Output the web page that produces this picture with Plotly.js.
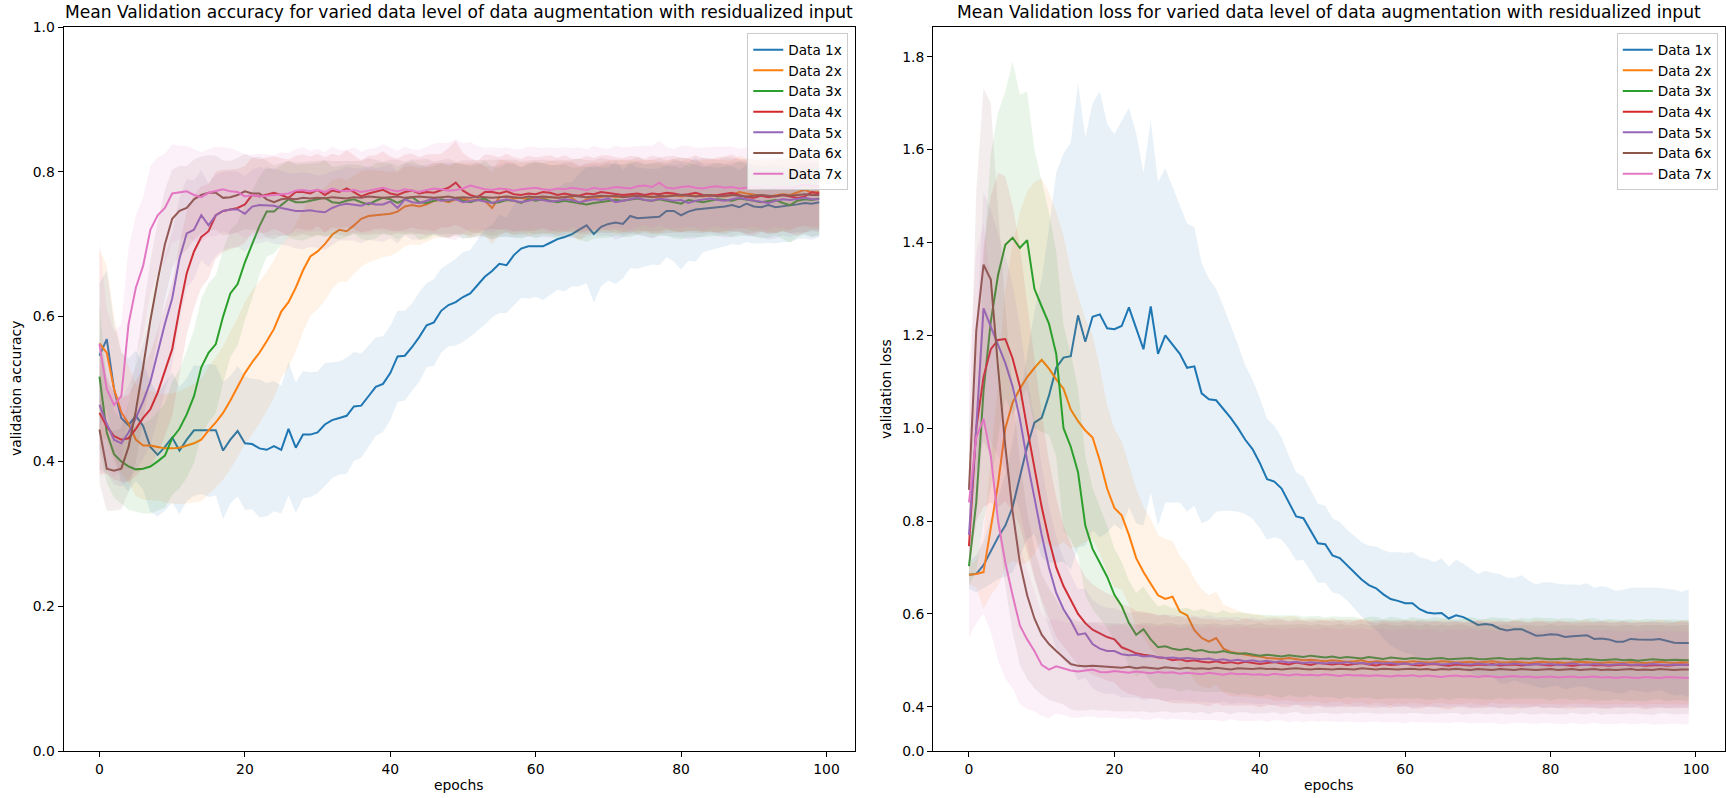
<!DOCTYPE html>
<html>
<head>
<meta charset="utf-8">
<script src="https://cdn.plot.ly/plotly-3.0.1.min.js"></script>
<style>html,body{margin:0;padding:0;background:#fff;}#chart{width:1726px;height:798px;}</style>
</head>
<body>
<div id="chart"></div>
<script>
// ---------------- DATA ----------------
const seriesNames = ["Data 1x","Data 2x","Data 3x","Data 4x","Data 5x","Data 6x","Data 7x"];
const epochs = Array.from({length: 100}, (_, i) => i);
const titleAcc = "Mean Validation accuracy for varied data level of data augmentation with residualized input";
const titleLoss = "Mean Validation loss for varied data level of data augmentation with residualized input";
const xTickVals = [0, 20, 40, 60, 80, 100];
const accTickVals = [0.0, 0.2, 0.4, 0.6, 0.8, 1.0];
const accTickText = ["0.0", "0.2", "0.4", "0.6", "0.8", "1.0"];
const lossTickVals = [0.3046, 0.4, 0.6, 0.8, 1.0, 1.2, 1.4, 1.6, 1.8];
const lossTickText = ["0.0", "0.4", "0.6", "0.8", "1.0", "1.2", "1.4", "1.6", "1.8"];

// mean validation accuracy
const acc1 = [0.546,0.569,0.500,0.460,0.450,0.463,0.449,0.420,0.409,0.420,
0.433,0.415,0.430,0.443,0.443,0.443,0.443,0.415,0.430,0.442,
0.425,0.424,0.418,0.416,0.421,0.416,0.445,0.419,0.437,0.437,
0.440,0.451,0.457,0.460,0.463,0.476,0.477,0.490,0.503,0.507,
0.522,0.545,0.546,0.558,0.572,0.588,0.592,0.608,0.616,0.620,
0.627,0.632,0.643,0.655,0.663,0.673,0.671,0.685,0.694,0.697,
0.697,0.697,0.702,0.707,0.710,0.714,0.720,0.726,0.714,0.724,
0.728,0.730,0.728,0.739,0.736,0.737,0.738,0.738,0.746,0.746,
0.740,0.745,0.748,0.749,0.749,0.750,0.752,0.754,0.751,0.756,
0.752,0.751,0.754,0.751,0.752,0.753,0.755,0.757,0.756,0.758];
const acc2 = [0.563,0.550,0.500,0.468,0.452,0.430,0.422,0.422,0.420,0.418,
0.418,0.419,0.422,0.425,0.430,0.443,0.454,0.467,0.484,0.502,
0.522,0.537,0.550,0.566,0.583,0.607,0.620,0.640,0.664,0.683,
0.690,0.700,0.713,0.720,0.718,0.726,0.735,0.739,0.740,0.742,
0.742,0.745,0.752,0.754,0.752,0.755,0.760,0.761,0.758,0.762,
0.763,0.760,0.762,0.760,0.750,0.765,0.766,0.763,0.764,0.762,
0.765,0.763,0.765,0.764,0.766,0.764,0.756,0.762,0.764,0.765,
0.767,0.765,0.766,0.768,0.765,0.767,0.766,0.764,0.767,0.768,
0.766,0.768,0.767,0.766,0.768,0.767,0.766,0.768,0.772,0.770,
0.768,0.767,0.766,0.768,0.769,0.768,0.772,0.775,0.771,0.772];
const acc3 = [0.517,0.440,0.410,0.400,0.393,0.389,0.390,0.393,0.400,0.408,
0.432,0.445,0.465,0.490,0.530,0.550,0.562,0.600,0.632,0.645,
0.675,0.700,0.725,0.745,0.745,0.754,0.762,0.758,0.758,0.760,
0.762,0.764,0.758,0.757,0.760,0.762,0.758,0.755,0.760,0.764,
0.762,0.757,0.762,0.765,0.758,0.757,0.760,0.762,0.760,0.763,
0.760,0.758,0.761,0.763,0.757,0.758,0.761,0.760,0.757,0.762,
0.760,0.762,0.760,0.758,0.760,0.758,0.757,0.755,0.757,0.758,
0.760,0.761,0.760,0.762,0.763,0.761,0.760,0.762,0.760,0.758,
0.756,0.761,0.760,0.758,0.760,0.762,0.761,0.760,0.763,0.762,
0.760,0.758,0.760,0.761,0.757,0.754,0.760,0.762,0.761,0.763];
const acc4 = [0.467,0.448,0.435,0.430,0.432,0.445,0.460,0.472,0.495,0.525,
0.555,0.610,0.660,0.690,0.710,0.718,0.740,0.746,0.748,0.750,
0.755,0.768,0.766,0.768,0.771,0.768,0.764,0.772,0.772,0.770,
0.775,0.768,0.774,0.772,0.777,0.772,0.766,0.770,0.772,0.775,
0.770,0.768,0.772,0.774,0.770,0.772,0.771,0.774,0.778,0.785,
0.774,0.768,0.765,0.772,0.772,0.770,0.773,0.769,0.768,0.770,
0.769,0.772,0.771,0.768,0.770,0.768,0.767,0.770,0.769,0.772,
0.771,0.770,0.768,0.769,0.770,0.768,0.770,0.769,0.771,0.770,
0.768,0.769,0.771,0.768,0.767,0.768,0.770,0.771,0.768,0.765,
0.764,0.767,0.765,0.767,0.768,0.766,0.764,0.766,0.772,0.770];
const acc5 = [0.478,0.452,0.430,0.425,0.440,0.460,0.483,0.510,0.550,0.590,
0.625,0.680,0.715,0.720,0.740,0.726,0.740,0.746,0.748,0.748,
0.742,0.752,0.754,0.754,0.753,0.750,0.748,0.746,0.746,0.747,
0.745,0.744,0.750,0.754,0.756,0.755,0.753,0.757,0.755,0.755,
0.759,0.750,0.762,0.758,0.757,0.760,0.763,0.760,0.761,0.762,
0.758,0.760,0.761,0.759,0.757,0.760,0.762,0.760,0.758,0.760,
0.762,0.761,0.759,0.760,0.762,0.761,0.758,0.760,0.762,0.761,
0.763,0.758,0.760,0.762,0.764,0.761,0.760,0.763,0.762,0.760,
0.761,0.757,0.760,0.762,0.763,0.761,0.760,0.762,0.764,0.762,
0.760,0.759,0.757,0.760,0.762,0.761,0.763,0.764,0.762,0.762];
const acc6 = [0.444,0.390,0.387,0.390,0.420,0.470,0.530,0.595,0.650,0.700,
0.735,0.746,0.750,0.762,0.768,0.771,0.771,0.764,0.765,0.768,
0.773,0.770,0.770,0.762,0.758,0.762,0.763,0.762,0.764,0.763,
0.764,0.763,0.765,0.764,0.763,0.765,0.764,0.766,0.765,0.764,
0.765,0.766,0.764,0.765,0.766,0.765,0.764,0.765,0.766,0.764,
0.765,0.764,0.766,0.765,0.764,0.765,0.766,0.765,0.764,0.766,
0.765,0.766,0.765,0.764,0.765,0.767,0.766,0.765,0.766,0.767,
0.766,0.767,0.765,0.766,0.767,0.766,0.765,0.767,0.766,0.767,
0.768,0.767,0.766,0.767,0.768,0.766,0.767,0.768,0.767,0.766,
0.767,0.768,0.767,0.766,0.768,0.767,0.768,0.769,0.768,0.768];
const acc7 = [0.562,0.500,0.478,0.490,0.590,0.640,0.670,0.720,0.740,0.750,
0.770,0.771,0.773,0.768,0.765,0.771,0.773,0.776,0.773,0.772,
0.766,0.768,0.766,0.767,0.768,0.769,0.770,0.774,0.775,0.773,
0.775,0.772,0.777,0.774,0.773,0.775,0.772,0.774,0.776,0.778,
0.775,0.773,0.776,0.774,0.772,0.775,0.777,0.776,0.774,0.775,
0.777,0.781,0.778,0.776,0.775,0.777,0.776,0.774,0.776,0.777,
0.778,0.776,0.775,0.777,0.776,0.778,0.777,0.775,0.778,0.776,
0.777,0.779,0.778,0.777,0.780,0.781,0.779,0.785,0.778,0.777,
0.779,0.780,0.778,0.777,0.779,0.780,0.778,0.779,0.777,0.778,
0.779,0.778,0.776,0.778,0.779,0.777,0.779,0.782,0.780,0.779];

// std of validation accuracy (half-width of shaded band)
const sdA1 = [0.100,0.095,0.090,0.090,0.092,0.090,0.088,0.090,0.085,0.088,
0.090,0.088,0.085,0.090,0.088,0.092,0.090,0.095,0.088,0.090,
0.092,0.090,0.095,0.092,0.090,0.088,0.092,0.090,0.088,0.086,
0.084,0.085,0.080,0.078,0.080,0.075,0.072,0.070,0.068,0.066,
0.065,0.063,0.062,0.060,0.062,0.058,0.060,0.058,0.057,0.060,
0.062,0.060,0.063,0.066,0.064,0.068,0.066,0.070,0.068,0.072,
0.070,0.074,0.072,0.070,0.075,0.072,0.078,0.080,0.095,0.082,
0.078,0.085,0.075,0.072,0.070,0.068,0.066,0.067,0.064,0.070,
0.075,0.068,0.072,0.060,0.058,0.056,0.055,0.054,0.052,0.053,
0.051,0.050,0.052,0.050,0.049,0.050,0.048,0.049,0.050,0.048];
const sdA2 = [0.130,0.120,0.100,0.085,0.080,0.078,0.075,0.076,0.074,0.075,
0.076,0.078,0.080,0.082,0.085,0.088,0.090,0.092,0.095,0.096,
0.098,0.100,0.098,0.096,0.095,0.092,0.090,0.088,0.085,0.082,
0.080,0.078,0.075,0.072,0.070,0.068,0.066,0.064,0.062,0.060,
0.058,0.056,0.055,0.054,0.053,0.052,0.052,0.051,0.050,0.050,
0.049,0.051,0.050,0.048,0.050,0.052,0.049,0.050,0.048,0.051,
0.050,0.049,0.051,0.050,0.048,0.050,0.052,0.049,0.050,0.048,
0.049,0.051,0.050,0.048,0.050,0.049,0.051,0.050,0.048,0.050,
0.049,0.050,0.048,0.050,0.049,0.051,0.050,0.048,0.050,0.049,
0.050,0.048,0.049,0.051,0.050,0.049,0.048,0.050,0.049,0.050];
const sdA3 = [0.100,0.070,0.060,0.058,0.060,0.058,0.062,0.065,0.068,0.072,
0.078,0.082,0.088,0.092,0.095,0.096,0.095,0.092,0.088,0.085,
0.080,0.075,0.068,0.062,0.058,0.055,0.053,0.052,0.053,0.051,
0.050,0.052,0.049,0.051,0.050,0.048,0.051,0.050,0.052,0.049,
0.050,0.051,0.049,0.050,0.052,0.050,0.048,0.051,0.050,0.049,
0.051,0.050,0.049,0.052,0.050,0.048,0.050,0.051,0.049,0.050,
0.052,0.050,0.049,0.051,0.050,0.048,0.050,0.052,0.049,0.050,
0.051,0.049,0.050,0.052,0.050,0.049,0.051,0.050,0.048,0.050,
0.049,0.051,0.050,0.048,0.050,0.051,0.049,0.050,0.052,0.050,
0.049,0.050,0.051,0.049,0.050,0.052,0.050,0.049,0.051,0.050];
const sdA4 = [0.085,0.065,0.060,0.058,0.060,0.065,0.070,0.078,0.085,0.090,
0.092,0.090,0.085,0.078,0.070,0.065,0.060,0.057,0.055,0.054,
0.053,0.052,0.051,0.052,0.050,0.051,0.053,0.050,0.052,0.051,
0.050,0.052,0.051,0.050,0.053,0.051,0.050,0.052,0.051,0.053,
0.051,0.050,0.052,0.051,0.050,0.052,0.053,0.051,0.055,0.058,
0.052,0.051,0.050,0.052,0.051,0.050,0.052,0.051,0.050,0.052,
0.051,0.050,0.052,0.051,0.053,0.050,0.051,0.052,0.050,0.051,
0.052,0.050,0.051,0.053,0.051,0.050,0.052,0.051,0.050,0.052,
0.051,0.050,0.052,0.051,0.050,0.052,0.051,0.053,0.050,0.051,
0.052,0.050,0.051,0.052,0.050,0.051,0.053,0.050,0.052,0.051];
const sdA5 = [0.090,0.068,0.062,0.060,0.065,0.072,0.080,0.088,0.092,0.094,
0.092,0.085,0.075,0.068,0.062,0.058,0.056,0.054,0.053,0.052,
0.052,0.051,0.053,0.050,0.052,0.051,0.050,0.052,0.053,0.051,
0.050,0.052,0.051,0.049,0.051,0.050,0.052,0.051,0.050,0.052,
0.051,0.049,0.050,0.052,0.051,0.050,0.049,0.051,0.052,0.050,
0.051,0.050,0.052,0.049,0.051,0.050,0.052,0.051,0.049,0.050,
0.052,0.051,0.050,0.049,0.051,0.052,0.050,0.051,0.049,0.050,
0.051,0.052,0.050,0.049,0.051,0.050,0.052,0.051,0.050,0.049,
0.051,0.050,0.052,0.051,0.049,0.050,0.051,0.052,0.050,0.051,
0.050,0.049,0.051,0.052,0.050,0.051,0.049,0.050,0.052,0.051];
const sdA6 = [0.075,0.058,0.055,0.056,0.062,0.070,0.078,0.082,0.080,0.075,
0.068,0.062,0.058,0.055,0.053,0.052,0.051,0.052,0.050,0.051,
0.052,0.050,0.051,0.053,0.051,0.050,0.052,0.051,0.050,0.052,
0.051,0.053,0.050,0.051,0.052,0.050,0.051,0.053,0.051,0.050,
0.052,0.051,0.050,0.052,0.051,0.053,0.050,0.051,0.052,0.050,
0.051,0.052,0.050,0.051,0.053,0.051,0.050,0.052,0.051,0.050,
0.052,0.051,0.050,0.053,0.051,0.050,0.052,0.051,0.050,0.052,
0.051,0.050,0.052,0.051,0.053,0.050,0.051,0.052,0.050,0.051,
0.052,0.051,0.050,0.052,0.051,0.050,0.053,0.051,0.050,0.052,
0.051,0.050,0.052,0.051,0.050,0.052,0.051,0.053,0.050,0.051];
const sdA7 = [0.140,0.110,0.100,0.100,0.105,0.100,0.095,0.088,0.080,0.075,
0.068,0.065,0.063,0.064,0.062,0.060,0.062,0.058,0.060,0.057,
0.058,0.056,0.059,0.057,0.055,0.058,0.056,0.057,0.059,0.056,
0.057,0.055,0.058,0.056,0.057,0.059,0.056,0.058,0.057,0.060,
0.058,0.056,0.059,0.057,0.058,0.060,0.062,0.064,0.066,0.070,
0.062,0.060,0.058,0.057,0.059,0.056,0.058,0.057,0.055,0.058,
0.056,0.057,0.059,0.056,0.058,0.055,0.057,0.056,0.058,0.057,
0.055,0.057,0.056,0.058,0.056,0.055,0.057,0.058,0.056,0.055,
0.057,0.056,0.055,0.057,0.056,0.055,0.057,0.056,0.055,0.056,
0.055,0.057,0.056,0.055,0.056,0.057,0.055,0.056,0.054,0.055];

// mean validation loss
const loss1 = [0.684,0.686,0.705,0.735,0.765,0.790,0.830,0.895,0.960,1.012,
1.022,1.070,1.130,1.152,1.155,1.243,1.186,1.240,1.245,1.215,
1.213,1.220,1.260,1.215,1.170,1.262,1.160,1.200,1.180,1.160,
1.130,1.133,1.075,1.062,1.060,1.042,1.022,1.000,0.975,0.955,
0.925,0.890,0.885,0.870,0.840,0.810,0.806,0.780,0.752,0.750,
0.726,0.720,0.705,0.690,0.674,0.662,0.655,0.642,0.632,0.628,
0.623,0.623,0.610,0.603,0.601,0.602,0.590,0.597,0.593,0.585,
0.576,0.578,0.576,0.568,0.564,0.567,0.567,0.560,0.553,0.554,
0.556,0.555,0.550,0.552,0.553,0.554,0.546,0.547,0.545,0.540,
0.540,0.546,0.545,0.544,0.544,0.546,0.542,0.538,0.537,0.537];
const loss2 = [0.684,0.686,0.690,0.790,0.880,1.000,1.055,1.085,1.110,1.130,
1.147,1.128,1.105,1.085,1.040,1.015,0.995,0.980,0.930,0.870,
0.828,0.812,0.770,0.720,0.690,0.665,0.640,0.632,0.637,0.605,
0.597,0.565,0.548,0.540,0.548,0.525,0.518,0.515,0.512,0.510,
0.508,0.505,0.504,0.503,0.505,0.502,0.500,0.501,0.500,0.498,
0.500,0.499,0.497,0.498,0.500,0.496,0.498,0.497,0.495,0.497,
0.496,0.498,0.497,0.495,0.496,0.498,0.497,0.495,0.496,0.497,
0.495,0.496,0.498,0.496,0.495,0.497,0.496,0.494,0.496,0.497,
0.495,0.496,0.494,0.495,0.497,0.496,0.495,0.494,0.496,0.495,
0.494,0.496,0.495,0.494,0.495,0.497,0.495,0.494,0.496,0.495];
const loss3 = [0.703,0.840,1.080,1.230,1.330,1.395,1.410,1.388,1.405,1.300,
1.262,1.225,1.160,1.000,0.960,0.905,0.790,0.740,0.710,0.680,
0.641,0.617,0.580,0.555,0.567,0.545,0.528,0.530,0.525,0.522,
0.525,0.520,0.522,0.518,0.517,0.520,0.516,0.514,0.515,0.512,
0.510,0.512,0.510,0.508,0.511,0.509,0.507,0.510,0.508,0.506,
0.508,0.505,0.507,0.506,0.504,0.507,0.505,0.503,0.506,0.504,
0.503,0.505,0.504,0.502,0.504,0.505,0.502,0.503,0.504,0.505,
0.503,0.502,0.504,0.505,0.503,0.502,0.504,0.503,0.505,0.504,
0.502,0.503,0.504,0.502,0.501,0.503,0.502,0.500,0.501,0.502,
0.500,0.501,0.499,0.500,0.502,0.501,0.500,0.501,0.500,0.500];
const loss4 = [0.746,1.000,1.110,1.170,1.190,1.192,1.150,1.090,1.000,0.915,
0.830,0.760,0.700,0.660,0.630,0.600,0.580,0.566,0.558,0.550,
0.545,0.528,0.522,0.515,0.512,0.510,0.506,0.505,0.500,0.502,
0.498,0.500,0.497,0.495,0.498,0.494,0.496,0.493,0.497,0.495,
0.492,0.494,0.496,0.493,0.491,0.495,0.493,0.490,0.494,0.492,
0.491,0.493,0.490,0.492,0.494,0.491,0.489,0.492,0.490,0.491,
0.493,0.490,0.489,0.491,0.492,0.490,0.488,0.491,0.490,0.489,
0.491,0.490,0.492,0.489,0.490,0.491,0.489,0.490,0.492,0.490,
0.489,0.491,0.490,0.488,0.490,0.491,0.489,0.490,0.488,0.490,
0.491,0.489,0.490,0.488,0.489,0.490,0.488,0.489,0.491,0.490];
const loss5 = [0.770,1.000,1.258,1.220,1.180,1.140,1.090,1.020,0.930,0.850,
0.770,0.700,0.645,0.610,0.585,0.555,0.558,0.535,0.525,0.520,
0.520,0.513,0.511,0.512,0.508,0.509,0.507,0.505,0.506,0.504,
0.505,0.503,0.502,0.504,0.500,0.502,0.499,0.501,0.498,0.500,
0.497,0.499,0.496,0.498,0.495,0.497,0.494,0.496,0.495,0.493,
0.495,0.494,0.496,0.493,0.494,0.492,0.495,0.493,0.494,0.492,
0.493,0.491,0.494,0.492,0.493,0.491,0.492,0.494,0.492,0.491,
0.493,0.492,0.490,0.492,0.491,0.493,0.492,0.490,0.492,0.491,
0.492,0.490,0.491,0.493,0.491,0.490,0.492,0.491,0.490,0.491,
0.492,0.490,0.491,0.490,0.492,0.491,0.490,0.491,0.490,0.491];
const loss6 = [0.867,1.210,1.352,1.320,1.130,0.960,0.820,0.710,0.640,0.590,
0.555,0.535,0.520,0.505,0.492,0.488,0.487,0.488,0.487,0.486,
0.485,0.484,0.486,0.483,0.485,0.484,0.482,0.485,0.483,0.482,
0.484,0.482,0.483,0.481,0.484,0.482,0.480,0.483,0.482,0.481,
0.483,0.481,0.482,0.480,0.482,0.483,0.481,0.480,0.482,0.481,
0.480,0.482,0.481,0.480,0.483,0.481,0.480,0.482,0.481,0.480,
0.481,0.482,0.480,0.481,0.479,0.481,0.480,0.482,0.480,0.479,
0.481,0.480,0.479,0.481,0.480,0.479,0.481,0.480,0.479,0.480,
0.481,0.479,0.480,0.481,0.479,0.480,0.481,0.479,0.480,0.479,
0.480,0.481,0.479,0.480,0.479,0.481,0.480,0.479,0.480,0.480];
const loss7 = [0.840,0.980,1.020,0.940,0.800,0.710,0.640,0.575,0.545,0.520,
0.490,0.480,0.487,0.482,0.478,0.476,0.478,0.480,0.475,0.474,
0.477,0.475,0.473,0.476,0.474,0.472,0.475,0.473,0.474,0.471,
0.473,0.472,0.470,0.473,0.471,0.469,0.472,0.470,0.471,0.469,
0.470,0.468,0.471,0.469,0.467,0.470,0.468,0.469,0.467,0.470,
0.468,0.466,0.469,0.467,0.468,0.466,0.468,0.467,0.465,0.467,
0.466,0.468,0.465,0.467,0.466,0.464,0.466,0.467,0.465,0.466,
0.464,0.466,0.465,0.463,0.465,0.466,0.464,0.465,0.463,0.464,
0.465,0.463,0.464,0.465,0.463,0.464,0.465,0.463,0.464,0.462,
0.464,0.463,0.462,0.464,0.463,0.462,0.464,0.463,0.462,0.462];

// std of validation loss (half-width of shaded band)
const sdL1 = [0.030,0.040,0.050,0.070,0.090,0.110,0.140,0.170,0.200,0.240,
0.300,0.360,0.420,0.440,0.460,0.500,0.440,0.460,0.480,0.440,
0.420,0.440,0.430,0.420,0.380,0.400,0.370,0.360,0.340,0.320,
0.310,0.300,0.280,0.260,0.240,0.220,0.200,0.180,0.160,0.150,
0.140,0.130,0.120,0.110,0.100,0.095,0.090,0.088,0.085,0.083,
0.080,0.078,0.076,0.078,0.080,0.085,0.090,0.095,0.100,0.105,
0.108,0.110,0.112,0.115,0.110,0.118,0.112,0.120,0.115,0.112,
0.110,0.115,0.112,0.118,0.114,0.110,0.116,0.112,0.110,0.114,
0.112,0.110,0.113,0.111,0.109,0.112,0.110,0.113,0.111,0.110,
0.112,0.110,0.111,0.113,0.112,0.110,0.112,0.114,0.110,0.116];
const sdL2 = [0.020,0.030,0.080,0.150,0.220,0.300,0.340,0.380,0.400,0.400,
0.390,0.380,0.360,0.330,0.300,0.270,0.240,0.220,0.200,0.180,
0.170,0.160,0.150,0.150,0.140,0.140,0.130,0.130,0.120,0.120,
0.110,0.110,0.105,0.100,0.100,0.095,0.095,0.092,0.090,0.090,
0.090,0.088,0.091,0.089,0.090,0.092,0.088,0.090,0.089,0.091,
0.090,0.088,0.092,0.089,0.090,0.091,0.088,0.090,0.092,0.089,
0.091,0.089,0.090,0.092,0.088,0.090,0.091,0.089,0.090,0.088,
0.090,0.092,0.089,0.090,0.088,0.091,0.090,0.089,0.092,0.090,
0.089,0.091,0.090,0.088,0.090,0.092,0.089,0.090,0.091,0.089,
0.090,0.088,0.091,0.090,0.089,0.092,0.090,0.088,0.091,0.090];
const sdL3 = [0.040,0.150,0.280,0.360,0.350,0.330,0.380,0.330,0.320,0.300,
0.270,0.240,0.220,0.220,0.200,0.180,0.150,0.130,0.120,0.110,
0.100,0.095,0.092,0.090,0.092,0.090,0.088,0.090,0.087,0.089,
0.088,0.086,0.089,0.087,0.085,0.088,0.086,0.089,0.087,0.086,
0.088,0.085,0.087,0.089,0.086,0.088,0.087,0.085,0.088,0.086,
0.087,0.089,0.086,0.088,0.085,0.087,0.089,0.086,0.088,0.087,
0.085,0.088,0.086,0.087,0.089,0.086,0.088,0.085,0.087,0.088,
0.086,0.087,0.089,0.086,0.088,0.085,0.087,0.086,0.088,0.087,
0.089,0.086,0.087,0.088,0.085,0.087,0.089,0.086,0.088,0.086,
0.087,0.088,0.086,0.089,0.087,0.085,0.088,0.087,0.086,0.088];
const sdL4 = [0.050,0.200,0.280,0.330,0.360,0.350,0.330,0.300,0.270,0.240,
0.200,0.170,0.150,0.130,0.120,0.110,0.100,0.098,0.095,0.094,
0.093,0.092,0.094,0.091,0.093,0.092,0.090,0.093,0.092,0.094,
0.091,0.093,0.092,0.094,0.090,0.092,0.093,0.091,0.094,0.092,
0.093,0.091,0.092,0.094,0.092,0.090,0.093,0.092,0.091,0.094,
0.092,0.093,0.091,0.092,0.094,0.093,0.091,0.092,0.093,0.090,
0.092,0.094,0.093,0.091,0.092,0.093,0.094,0.092,0.091,0.093,
0.094,0.092,0.091,0.093,0.092,0.094,0.093,0.091,0.092,0.093,
0.091,0.093,0.094,0.092,0.091,0.093,0.092,0.094,0.093,0.092,
0.093,0.091,0.092,0.094,0.093,0.092,0.091,0.093,0.094,0.092];
const sdL5 = [0.060,0.200,0.250,0.250,0.240,0.230,0.220,0.200,0.180,0.170,
0.150,0.130,0.120,0.110,0.100,0.098,0.096,0.095,0.094,0.093,
0.092,0.093,0.091,0.092,0.094,0.092,0.091,0.093,0.092,0.090,
0.092,0.093,0.091,0.094,0.092,0.091,0.093,0.092,0.090,0.093,
0.091,0.092,0.094,0.092,0.091,0.093,0.090,0.092,0.093,0.091,
0.094,0.092,0.091,0.093,0.092,0.090,0.092,0.094,0.091,0.093,
0.092,0.091,0.093,0.092,0.094,0.091,0.092,0.093,0.090,0.092,
0.093,0.091,0.092,0.094,0.092,0.091,0.093,0.092,0.091,0.093,
0.092,0.094,0.091,0.092,0.093,0.091,0.092,0.094,0.092,0.091,
0.093,0.092,0.090,0.092,0.093,0.091,0.094,0.092,0.091,0.093];
const sdL6 = [0.100,0.300,0.380,0.380,0.340,0.300,0.260,0.220,0.180,0.150,
0.130,0.120,0.110,0.100,0.098,0.096,0.095,0.094,0.095,0.093,
0.095,0.094,0.096,0.094,0.095,0.097,0.094,0.095,0.096,0.094,
0.095,0.096,0.094,0.097,0.095,0.094,0.096,0.095,0.094,0.096,
0.097,0.095,0.094,0.096,0.095,0.094,0.097,0.095,0.096,0.094,
0.095,0.097,0.094,0.095,0.096,0.094,0.095,0.097,0.095,0.094,
0.096,0.095,0.094,0.097,0.095,0.096,0.094,0.095,0.097,0.094,
0.095,0.096,0.094,0.095,0.097,0.095,0.094,0.096,0.095,0.094,
0.097,0.095,0.096,0.094,0.095,0.096,0.094,0.097,0.095,0.094,
0.096,0.095,0.094,0.096,0.097,0.095,0.094,0.096,0.095,0.096];
const sdL7 = [0.290,0.400,0.420,0.380,0.300,0.250,0.200,0.170,0.150,0.130,
0.110,0.105,0.102,0.100,0.101,0.100,0.099,0.101,0.100,0.098,
0.100,0.101,0.099,0.100,0.102,0.100,0.099,0.101,0.100,0.098,
0.101,0.100,0.099,0.102,0.100,0.101,0.099,0.100,0.102,0.100,
0.099,0.101,0.100,0.098,0.101,0.100,0.102,0.099,0.100,0.101,
0.100,0.099,0.101,0.100,0.102,0.099,0.100,0.101,0.099,0.100,
0.102,0.100,0.099,0.101,0.100,0.098,0.101,0.100,0.099,0.102,
0.100,0.101,0.099,0.100,0.102,0.100,0.099,0.101,0.100,0.099,
0.101,0.100,0.102,0.099,0.100,0.101,0.099,0.100,0.102,0.100,
0.099,0.101,0.100,0.099,0.102,0.100,0.101,0.099,0.100,0.101];

// ---------------- STYLE ----------------
const colors = ["#1f77b4","#ff7f0e","#2ca02c","#d62728","#9467bd","#8c564b","#e377c2"];
function rgba(hex, a) {
  const r = parseInt(hex.slice(1,3),16), g = parseInt(hex.slice(3,5),16), b = parseInt(hex.slice(5,7),16);
  return `rgba(${r},${g},${b},${a})`;
}
const accMeans = [acc1, acc2, acc3, acc4, acc5, acc6, acc7];
const accStds  = [sdA1, sdA2, sdA3, sdA4, sdA5, sdA6, sdA7];
const lossMeans = [loss1, loss2, loss3, loss4, loss5, loss6, loss7];
const lossStds  = [sdL1, sdL2, sdL3, sdL4, sdL5, sdL6, sdL7];

const traces = [];
function addPanel(means, stds, xa, ya, legendId) {
  means.forEach((m, i) => {
    traces.push({
      type: 'scatter', mode: 'lines', x: epochs, y: m, name: seriesNames[i],
      xaxis: xa, yaxis: ya, legend: legendId,
      line: {color: colors[i], width: 2}, hoverinfo: 'x+y+name'
    });
    const upper = m.map((v, k) => v + stds[i][k]);
    const lower = m.map((v, k) => v - stds[i][k]);
    traces.push({
      type: 'scatter', mode: 'lines',
      x: epochs.concat(epochs.slice().reverse()),
      y: upper.concat(lower.slice().reverse()),
      fill: 'toself', fillcolor: rgba(colors[i], 0.1),
      line: {width: 0, color: rgba(colors[i], 0)},
      xaxis: xa, yaxis: ya, showlegend: false, hoverinfo: 'skip'
    });
  });
}
addPanel(accMeans, accStds, 'x', 'y', 'legend');
addPanel(lossMeans, lossStds, 'x2', 'y2', 'legend2');

const W = 1726, H = 798;
const axL = [63.5, 855.2], axR = [933.0, 1724.7], axTop = 27, axBot = 751;
const font = 'DejaVu Sans, Verdana, sans-serif';
const tickFont = {family: font, size: 13.9, color: '#000'};

function xAxis(dom, anchor) {
  return {
    domain: [dom[0]/W, dom[1]/W], anchor: anchor, range: [-4.95, 103.95],
    tickvals: xTickVals, ticks: 'outside', ticklen: 5, tickwidth: 1, tickcolor: '#000',
    showline: true, mirror: true, linecolor: '#000', linewidth: 1,
    showgrid: false, zeroline: false, tickfont: tickFont, fixedrange: true
  };
}
function yAxis(range, vals, text, anchor) {
  return {
    domain: [1 - axBot/H, 1 - axTop/H], anchor: anchor, range: range,
    tickvals: vals, ticktext: text, ticks: 'outside', ticklen: 5, tickwidth: 1, tickcolor: '#000',
    showline: true, mirror: true, linecolor: '#000', linewidth: 1,
    showgrid: false, zeroline: false, tickfont: tickFont, fixedrange: true
  };
}
const legendStyle = (xr) => ({
  x: xr/W, y: 1 - 33.3/H, xanchor: 'right', yanchor: 'top',
  bgcolor: 'rgba(255,255,255,0.8)', bordercolor: '#cccccc', borderwidth: 1,
  font: {family: font, size: 13.6, color: '#000'}, tracegroupgap: 0
});

const cL = (axL[0] + axL[1]) / 2 / W, cR = (axR[0] + axR[1]) / 2 / W;
const midY = 1 - ((axTop + axBot) / 2) / H;
const layout = {
  width: W, height: H, margin: {l: 0, r: 0, t: 0, b: 0},
  paper_bgcolor: '#fff', plot_bgcolor: '#fff',
  font: {family: font, size: 13.9, color: '#000'},
  showlegend: true,
  xaxis: xAxis(axL, 'y'), yaxis: yAxis([0, 1], accTickVals, accTickText, 'x'),
  xaxis2: xAxis(axR, 'y2'), yaxis2: yAxis([0.3046, 1.864], lossTickVals, lossTickText, 'x2'),
  legend: legendStyle(axL[1] - 6.9),
  legend2: legendStyle(axR[1] - 6.9),
  annotations: [
    {text: titleAcc, x: cL, y: 1 - 12/H, xref: 'paper', yref: 'paper', xanchor: 'center', yanchor: 'middle', showarrow: false, font: {family: font, size: 17.1, color: '#000'}},
    {text: titleLoss, x: cR, y: 1 - 12/H, xref: 'paper', yref: 'paper', xanchor: 'center', yanchor: 'middle', showarrow: false, font: {family: font, size: 17.1, color: '#000'}},
    {text: 'epochs', x: cL, y: 1 - 785/H, xref: 'paper', yref: 'paper', xanchor: 'center', yanchor: 'middle', showarrow: false, font: {family: font, size: 13.9, color: '#000'}},
    {text: 'epochs', x: cR, y: 1 - 785/H, xref: 'paper', yref: 'paper', xanchor: 'center', yanchor: 'middle', showarrow: false, font: {family: font, size: 13.9, color: '#000'}},
    {text: 'validation accuracy', x: 16/W, y: midY, xref: 'paper', yref: 'paper', xanchor: 'center', yanchor: 'middle', textangle: -90, showarrow: false, font: {family: font, size: 13.9, color: '#000'}},
    {text: 'validation loss', x: 886/W, y: midY, xref: 'paper', yref: 'paper', xanchor: 'center', yanchor: 'middle', textangle: -90, showarrow: false, font: {family: font, size: 13.9, color: '#000'}}
  ]
};

Plotly.newPlot('chart', traces, layout, {displayModeBar: false, staticPlot: true});
</script>
</body>
</html>
